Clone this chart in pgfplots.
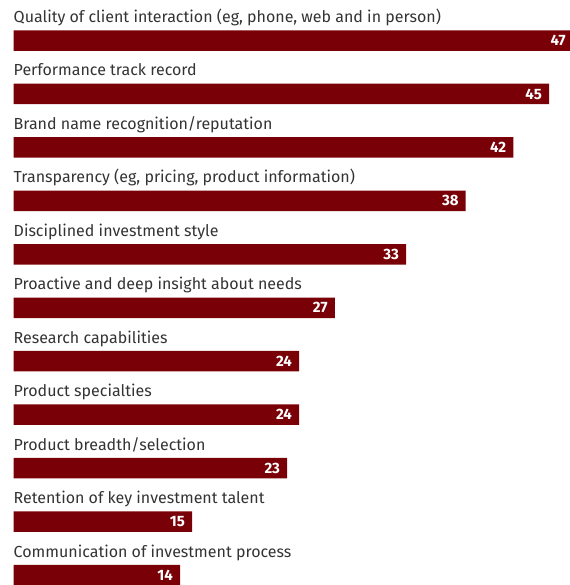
\documentclass[border=0pt]{standalone}
\usepackage{fontspec}
\setmainfont{Fira Sans}
\usepackage{pgfplots}
\pgfplotsset{compat=1.18}
\definecolor{barred}{HTML}{790006}
\definecolor{txt}{HTML}{333333}
\begin{document}
\begin{tikzpicture}
\path[use as bounding box] (-13.5pt,0) rectangle (555.5pt,585pt);
\begin{axis}[
  scale only axis, width=555.5pt, height=585pt,
  at={(0,0)}, anchor=south west,
  xmin=0, xmax=46.68,
  ymin=-0.758, ymax=10.187, y dir=reverse,
  axis lines=none, clip=false,
  xbar, bar width=20.5pt, bar shift=0pt,
  nodes near coords,
  nodes near coords style={anchor=east, text=white, inner sep=3pt, font=\fontsize{15}{17}\selectfont\bfseries, xshift=-4pt},
  /pgf/number format/assume math mode=true,
]
\addplot[fill=barred, draw=none] coordinates {
(47,0) (45,1) (42,2) (38,3) (33,4) (27,5) (24,6) (24,7) (23,8) (15,9) (14,10)};
\tikzset{lab/.style={anchor=base west, inner sep=0pt, text=txt, font=\fontsize{16}{18}\selectfont, yshift=18pt}}
\node[lab] at (axis cs:0,0) {Quality of client interaction (eg, phone, web and in person)};
\node[lab] at (axis cs:0,1) {Performance track record};
\node[lab] at (axis cs:0,2) {Brand name recognition/reputation};
\node[lab] at (axis cs:0,3) {Transparency (eg, pricing, product information)};
\node[lab] at (axis cs:0,4) {Disciplined investment style};
\node[lab] at (axis cs:0,5) {Proactive and deep insight about needs};
\node[lab] at (axis cs:0,6) {Research capabilities};
\node[lab] at (axis cs:0,7) {Product specialties};
\node[lab] at (axis cs:0,8) {Product breadth/selection};
\node[lab] at (axis cs:0,9) {Retention of key investment talent};
\node[lab] at (axis cs:0,10) {Communication of investment process};
\end{axis}
\end{tikzpicture}
\end{document}
